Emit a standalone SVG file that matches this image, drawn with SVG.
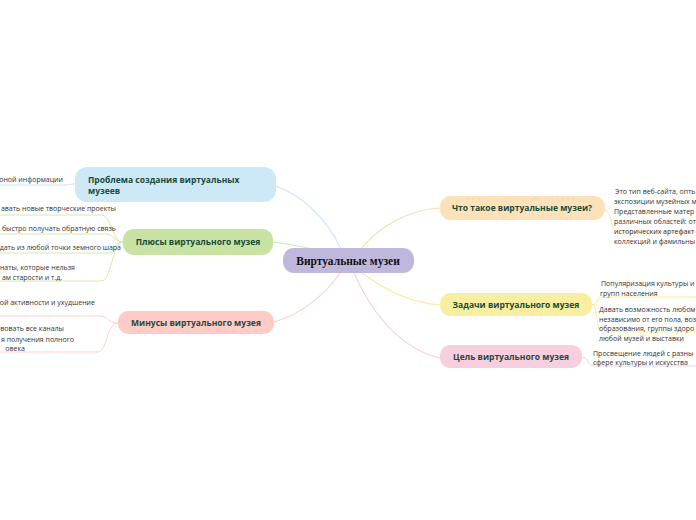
<svg xmlns="http://www.w3.org/2000/svg" width="696" height="520" viewBox="0 0 696 520">
<style>
.lbl{font-family:"Open Sans","Noto Sans",sans-serif;font-weight:bold;font-size:8.5px;fill:#1b4a3b}
.leaf{font-family:"Open Sans","Noto Sans",sans-serif;font-size:7px;fill:#333}
.c{fill:none;stroke-width:1.2}
.lc{fill:none;stroke-width:1}
.end{text-anchor:end}
.mid{text-anchor:middle}
</style>
<rect width="696" height="520" fill="#fff"/>
<g id="connectors">
<path class="c" stroke="#c9e6f6" d="M341,249 C325,215 300,195 276,186"/>
<path class="c" stroke="#d2e8b0" d="M313,249 C300,246 290,244 273,242"/>
<path class="c" stroke="#fcdab0" d="M361,249 C380,225 410,210 440,208"/>
<path class="c" stroke="#ffd0cc" d="M340,273 C325,295 300,315 274,322"/>
<path class="c" stroke="#f6ee9e" d="M362,273 C385,290 410,303 440,305"/>
<path class="c" stroke="#f8d0e0" d="M354,273 C375,320 405,350 440,358"/>
<path class="lc" stroke="#c9e6f6" d="M75,184 C70,184 68,185 63,185 L0,185"/>
<path class="lc" stroke="#d2e8b0" d="M123,242 C112,242 112,215 101,215 L0,215"/>
<path class="lc" stroke="#d2e8b0" d="M123,242 C114,242 114,234 106,234 L0,234"/>
<path class="lc" stroke="#d2e8b0" d="M123,242 C114,242 114,253 109,253 L0,253"/>
<path class="lc" stroke="#d2e8b0" d="M123,242 C112,242 112,281 101,281 L0,281"/>
<path class="lc" stroke="#ffd0cc" d="M118,323 C108,323 108,316 100,316 L0,316"/>
<path class="lc" stroke="#ffd0cc" d="M118,323 C106,323 108,352 97,352 L0,352"/>
<path class="lc" stroke="#fcdab0" d="M605,210 C613,212 610,232 618,232 L696,232"/>
<path class="lc" stroke="#f6ee9e" d="M592,305 C598,305 596,297 602,297 L696,297"/>
<path class="lc" stroke="#f6ee9e" d="M592,305 C598,305 596,332 602,332 L696,332"/>
<path class="lc" stroke="#f8d0e0" d="M582,357 C588,357 588,366 594,366 L696,366"/>
</g>
<g id="central">
<rect x="283" y="248" width="131" height="25" rx="11" fill="#bfb8dc"/>
<text x="348" y="265" class="mid" font-family="'Liberation Serif',serif" font-weight="bold" font-size="11.5" fill="#111">Виртуальные музеи</text>
</g>
<g id="problem">
<rect x="75" y="167" width="201" height="35" rx="12" fill="#cde9f8"/>
<text class="lbl" x="88" y="183">Проблема создания виртуальных</text>
<text class="lbl" x="88" y="194">музеев</text>
<text class="leaf end" x="63" y="182">оной информации</text>
</g>
<g id="plus">
<rect x="123" y="229" width="150" height="26" rx="11" fill="#c7e2a2"/>
<text class="lbl mid" x="198" y="245">Плюсы виртуального музея</text>
<text class="leaf end" x="116" y="211">авать новые творческие проекты</text>
<text class="leaf end" x="116" y="231">быстро получать обратную связь</text>
<text class="leaf end" x="121" y="250">дать из любой точки земного шара</text>
<text class="leaf end" x="75" y="270">наты, которые нельзя</text>
<text class="leaf end" x="62" y="280">ам старости и т.д.</text>
</g>
<g id="minus">
<rect x="118" y="311" width="156" height="23" rx="10" fill="#ffcbc6"/>
<text class="lbl mid" x="196" y="326">Минусы виртуального музея</text>
<text class="leaf end" x="95" y="305">ой активности и ухудшение</text>
<text class="leaf end" x="64" y="331">вовать все каналы</text>
<text class="leaf end" x="74" y="342">я получения полного</text>
<text class="leaf end" x="25" y="351">овека</text>
</g>
<g id="what">
<rect x="440" y="196" width="165" height="24" rx="11" fill="#fde1b8"/>
<text class="lbl mid" x="522" y="211">Что такое виртуальные музеи?</text>
<text class="leaf" x="615" y="194">Это тип веб-сайта, опть</text>
<text class="leaf" x="614" y="204">экспозиции музейных м</text>
<text class="leaf" x="614" y="214">Представленные матер</text>
<text class="leaf" x="614" y="224">различных областей: от</text>
<text class="leaf" x="614" y="234">исторических артефакт</text>
<text class="leaf" x="614" y="244">коллекций и фамильны</text>
</g>
<g id="tasks">
<rect x="440" y="293" width="152" height="23" rx="10" fill="#f7ef9f"/>
<text class="lbl mid" x="516" y="308">Задачи виртуального музея</text>
<text class="leaf" x="601" y="286">Популяризация культуры и</text>
<text class="leaf" x="600" y="296">групп населения</text>
<text class="leaf" x="599" y="312">Давать возможность любом</text>
<text class="leaf" x="599" y="322">независимо от его пола, воз</text>
<text class="leaf" x="599" y="331">образования, группы здоро</text>
<text class="leaf" x="599" y="341">любой музей и выставки</text>
</g>
<g id="goal">
<rect x="440" y="345" width="142" height="23" rx="10" fill="#f7cfdf"/>
<text class="lbl mid" x="511" y="360">Цель виртуального музея</text>
<text class="leaf" x="593" y="356">Просвещение людей с разны</text>
<text class="leaf" x="593" y="365">сфере культуры и искусства</text>
</g>
</svg>
